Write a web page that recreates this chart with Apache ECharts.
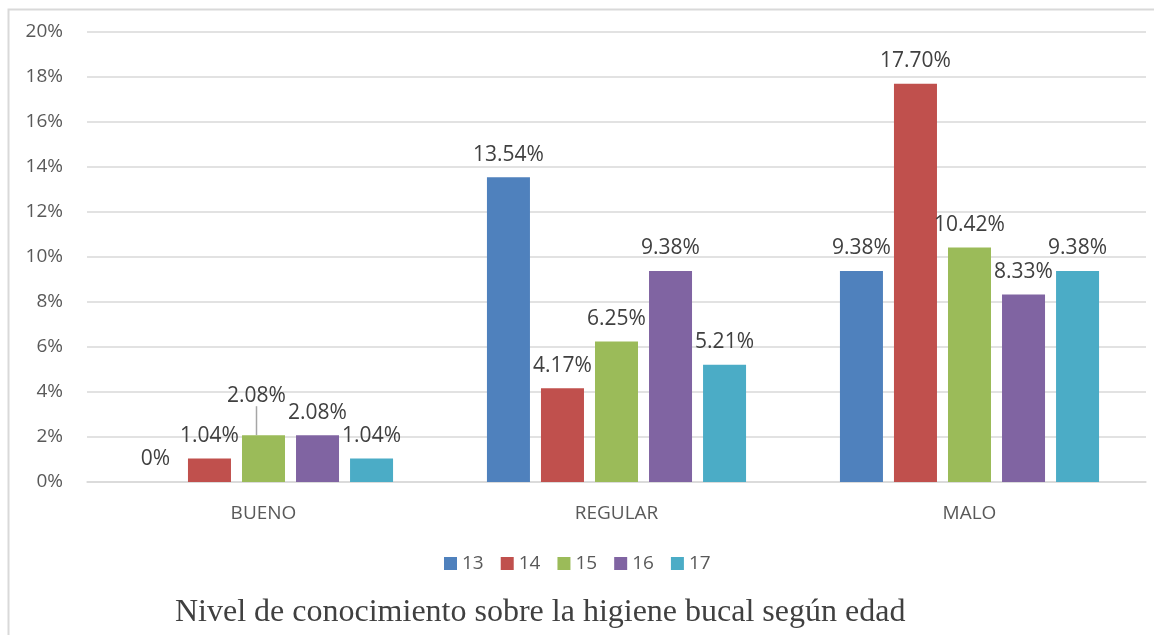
<!DOCTYPE html>
<html>
<head>
<meta charset="utf-8">
<script src="https://cdn.jsdelivr.net/npm/echarts@6/dist/echarts.min.js"></script>
<style>
  html, body { margin: 0; padding: 0; background: #ffffff; }
  #chart { width: 1154px; height: 635px; }
</style>
</head>
<body>
<div id="chart"></div>
<script>
// Knowledge level categories and age groups
const categories = ['BUENO', 'REGULAR', 'MALO'];
const ages = ['13', '14', '15', '16', '17'];

// Percentage of students per age within each level
const age13 = [0, 13.54, 9.38];
const age14 = [1.04, 4.17, 17.70];
const age15 = [2.08, 6.25, 10.42];
const age16 = [2.08, 9.38, 8.33];
const age17 = [1.04, 5.21, 9.38];

const yTicks = { min: 0, max: 20, interval: 2 };
const colors = ['#4F81BD', '#C0504D', '#9BBB59', '#8064A2', '#4BACC6'];
const titleText = 'Nivel de conocimiento sobre la higiene bucal según edad';

const seriesValues = [age13, age14, age15, age16, age17];
const labelFont = '"Open Sans", "Noto Sans", sans-serif';

// The 15-year label in BUENO is lifted above its neighbours with a guide line
const isLifted = (s, d) => s === 2 && d === 0;

const chart = echarts.init(document.getElementById('chart'));

const series = seriesValues.map((vals, i) => ({
  name: ages[i],
  type: 'bar',
  barGap: '25.6%',
  barCategoryGap: '26.6%',
  itemStyle: { color: colors[i] },
  label: {
    show: true,
    position: 'top',
    distance: 12,
    color: '#404040',
    fontSize: 21,
    fontFamily: labelFont,
    formatter: p => (p.value === 0 ? '0%' : p.value.toFixed(2) + '%')
  },
  labelLine: { show: false },
  labelLayout: p => (isLifted(i, p.dataIndex) ? { dx: -7, dy: -17 } : {}),
  data: vals.map((v, d) => isLifted(i, d)
    ? { value: v, labelLine: { show: true, lineStyle: { color: '#a6a6a6', width: 1.5 } } }
    : v)
}));

chart.setOption({
  animation: false,
  color: colors,
  grid: { left: 87, right: 8, top: 32, bottom: 153, containLabel: false },
  legend: {
    data: ages,
    left: 439,
    top: 549,
    icon: 'rect',
    itemWidth: 13,
    itemHeight: 13,
    itemGap: 17,
    textStyle: { color: '#595959', fontSize: 19, fontFamily: labelFont }
  },
  title: {
    text: titleText,
    left: 170,
    top: 592,
    textStyle: {
      fontFamily: '"Liberation Serif", "DejaVu Serif", serif',
      fontWeight: 'normal',
      fontSize: 32,
      color: '#404040'
    }
  },
  xAxis: {
    type: 'category',
    data: categories,
    axisLine: { lineStyle: { color: '#d9d9d9', width: 1.5 } },
    axisTick: { show: false },
    axisLabel: { color: '#595959', fontSize: 19, fontFamily: labelFont, margin: 22 }
  },
  yAxis: {
    type: 'value',
    min: yTicks.min,
    max: yTicks.max,
    interval: yTicks.interval,
    axisLine: { show: false },
    axisTick: { show: false },
    axisLabel: {
      color: '#595959',
      fontSize: 19,
      fontFamily: labelFont,
      margin: 24,
      formatter: '{value}%'
    },
    splitLine: { lineStyle: { color: '#d9d9d9', width: 1.5 } }
  },
  graphic: [{
    type: 'rect',
    silent: true,
    shape: { x: 8.5, y: 9.5, width: 1200, height: 700 },
    style: { fill: 'none', stroke: '#d9d9d9', lineWidth: 2 }
  }],
  series: series
});
</script>
</body>
</html>
